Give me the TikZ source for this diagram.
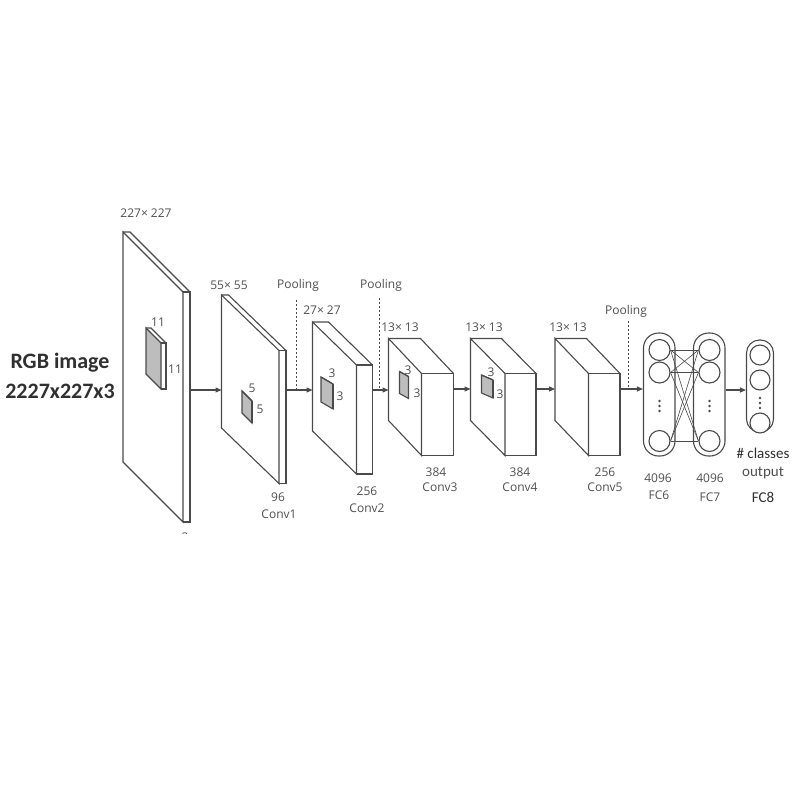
\documentclass[tikz,border=0pt]{standalone}
\usepackage{fontspec}
\setmainfont{Open Sans}
\newfontfamily\carl{Carlito}
\usetikzlibrary{arrows.meta}
\definecolor{ln}{HTML}{4A4A4A}
\definecolor{tx}{HTML}{505050}
\definecolor{dk}{HTML}{303030}
\definecolor{kg}{HTML}{BDBDBD}
\tikzset{
  edge/.style={draw=ln, line width=1.1pt, line join=miter},
  lbl/.style={text=tx, inner sep=0pt, font=\fontsize{12}{14}\selectfont},
  clbl/.style={text=dk, inner sep=0pt, font=\carl\fontsize{15}{17}\selectfont},
  arr/.style={draw=ln, line width=1.1pt, -{Triangle[length=6pt,width=5pt]}},
  pool/.style={draw=ln, line width=0.9pt, dash pattern=on 2pt off 2pt},
  pill/.style={draw=ln, line width=1.1pt, rounded corners=15pt, fill=white},
  neuron/.style={draw=ln, line width=1.1pt, circle, minimum size=21pt, inner sep=0pt, fill=white},
  dotn/.style={fill=ln, circle, minimum size=2.6pt, inner sep=0pt},
  wire/.style={draw=ln, line width=0.6pt}
}
% #1 front fill, #2 x0, #3 y0, #4 x1, #5 y1, #6 h, #7 dx
\newcommand\cnnslab[7]{%
  \fill[white] (#2,#3) -- ({#2+#7},#3) -- ({#4+#7},#5) -- ({#4+#7},{#5+#6}) -- (#4,{#5+#6}) -- (#2,{#3+#6}) -- cycle;
  \fill[#1] (#2,#3) -- (#4,#5) -- (#4,{#5+#6}) -- (#2,{#3+#6}) -- cycle;
  \draw[edge] (#2,#3) -- (#4,#5) -- (#4,{#5+#6}) -- (#2,{#3+#6}) -- cycle;
  \draw[edge] (#4,#5) -- ({#4+#7},#5) -- ({#4+#7},{#5+#6}) -- (#4,{#5+#6});
  \draw[edge] (#2,#3) -- ({#2+#7},#3) -- ({#4+#7},#5);
}
\begin{document}
\begin{tikzpicture}[x=1pt,y=-1pt]
\useasboundingbox (0,0) rectangle (793,793);
\fill[white] (0,0) rectangle (793,793);

% layers
\cnnslab{white}{123}{232}{183}{292}{230}{7}
\cnnslab{kg}{146}{328}{161}{343}{46}{5}
\cnnslab{white}{221.5}{295}{279}{350.5}{133}{7}
\cnnslab{kg}{242}{391}{252}{401}{22}{0}
\cnnslab{white}{312.5}{322}{356.5}{365}{109}{16}
\cnnslab{kg}{321}{377}{333}{384}{25}{0}
\cnnslab{white}{388.5}{338.5}{421.5}{373.5}{82}{32}
\cnnslab{kg}{399.5}{371.5}{408.5}{376.5}{22}{0}
\cnnslab{white}{470.5}{338.5}{505}{373.5}{82}{31}
\cnnslab{kg}{481.5}{375}{493}{380}{18}{0}
\cnnslab{white}{555}{338.5}{588.5}{373.5}{82}{31.5}

% connection points
\coordinate (l1o) at (190,390);
\coordinate (l2i) at (221.5,390);
\coordinate (l2o) at (286,390);
\coordinate (l3i) at (312.5,390);
\coordinate (l3o) at (372.5,390);
\coordinate (l4i) at (388.5,390);
\coordinate (l4o) at (453.5,389);
\coordinate (l5i) at (470.5,389);
\coordinate (l5o) at (536,389);
\coordinate (l6i) at (555,389);
\coordinate (l6o) at (620,389);

% fully connected layers
\node[pill, minimum width=31.5pt, minimum height=123pt] (fc6) at (659.25,394.5) {};
\node[pill, minimum width=31.5pt, minimum height=123pt] (fc7) at (709.25,394.5) {};
\node[pill, minimum width=27pt, minimum height=92pt, rounded corners=13pt] (fc8) at (760,386) {};

\foreach \k/\yy in {1/350,2/372.5,3/441}{
  \node[neuron] (a\k) at (659.5,\yy) {};
  \node[neuron] (b\k) at (709.5,\yy) {};
}
\foreach \i in {1,2,3}{\foreach \j in {1,2,3}{\draw[wire] (a\i.east) -- (b\j.west);}}
\foreach \k/\yy in {1/355,2/380,3/423}{
  \node[neuron, minimum size=20pt] (c\k) at (760,\yy) {};
}
\foreach \yy [count=\n] in {401,406,411}{
  \node[dotn] (da\n) at (659.5,\yy) {};
  \node[dotn] (db\n) at (709.5,\yy) {};
}
\foreach \yy [count=\n] in {398,403,408}{
  \node[dotn] (dc\n) at (760,\yy) {};
}

% arrows
\draw[arr] (l1o) -- (l2i);
\draw[arr] (l2o) -- (l3i);
\draw[arr] (l3o) -- (l4i);
\draw[arr] (l4o) -- (l5i);
\draw[arr] (l5o) -- (l6i);
\draw[arr] (l6o) -- (fc6.west |- l6o);
\draw[arr] (fc7.east |- 0,390) -- (fc8.west |- 0,390);

% pooling marks
\coordinate (p1t) at (296,300); \coordinate (p1b) at (296,390);
\coordinate (p2t) at (379.5,298); \coordinate (p2b) at (379.5,390);
\coordinate (p3t) at (628.5,321); \coordinate (p3b) at (628.5,388);
\draw[pool] (p1t) -- (p1b);
\draw[pool] (p2t) -- (p2b);
\draw[pool] (p3t) -- (p3b);
\node[lbl] (pl1) at (298,285) {Pooling};
\node[lbl] (pl2) at (381,285) {Pooling};
\node[lbl] (pl3) at (626,311) {Pooling};

% labels
\node[lbl] (s1) at (146,213) {227× 227};
\node[lbl] (k1a) at (158,322) {11};
\node[lbl] (k1b) at (175,369) {11};
\node[lbl] (s2) at (229,285) {55× 55};
\node[lbl] (k2a) at (252,388) {5};
\node[lbl] (k2b) at (260,409) {5};
\node[lbl] (d2) at (278,497) {96};
\node[lbl] (c2) at (279,514) {Conv1};
\node[lbl] (s3) at (322,310) {27× 27};
\node[lbl] (k3a) at (332,373) {3};
\node[lbl] (k3b) at (340,396) {3};
\node[lbl] (d3) at (367,491) {256};
\node[lbl] (c3) at (367,508) {Conv2};
\node[lbl] (s4) at (400,327) {13× 13};
\node[lbl] (k4a) at (408,370) {3};
\node[lbl] (k4b) at (417,393) {3};
\node[lbl] (d4) at (436,472) {384};
\node[lbl] (c4) at (440,487) {Conv3};
\node[lbl] (s5) at (484,327) {13× 13};
\node[lbl] (k5a) at (491,372) {3};
\node[lbl] (k5b) at (500,394) {3};
\node[lbl] (d5) at (520,472) {384};
\node[lbl] (c5) at (520,487) {Conv4};
\node[lbl] (s6) at (568,327) {13× 13};
\node[lbl] (d6) at (605,472) {256};
\node[lbl] (c6) at (605,487) {Conv5};
\node[lbl] (d7) at (658,478) {4096};
\node[lbl] (c7) at (659,495) {FC6};
\node[lbl] (d8) at (710,478) {4096};
\node[lbl] (c8) at (710,497) {FC7};
\node[clbl] (o1) at (763,453) {\# classes};
\node[clbl, text=tx] (o2) at (763,473) {output};
\node[clbl] (o3) at (763,497) {FC8};

\node[inner sep=0pt, text=dk, font=\carl\bfseries\fontsize{22}{26}\selectfont] (rgb1) at (60,363) {RGB image};
\node[inner sep=0pt, text=dk, font=\carl\bfseries\fontsize{22}{26}\selectfont] (rgb2) at (60,391) {2227x227x3};

\begin{scope}
\clip (160,520) rectangle (210,533);
\node[lbl] (cut3) at (185,537) {3};
\end{scope}
\end{tikzpicture}
\end{document}
